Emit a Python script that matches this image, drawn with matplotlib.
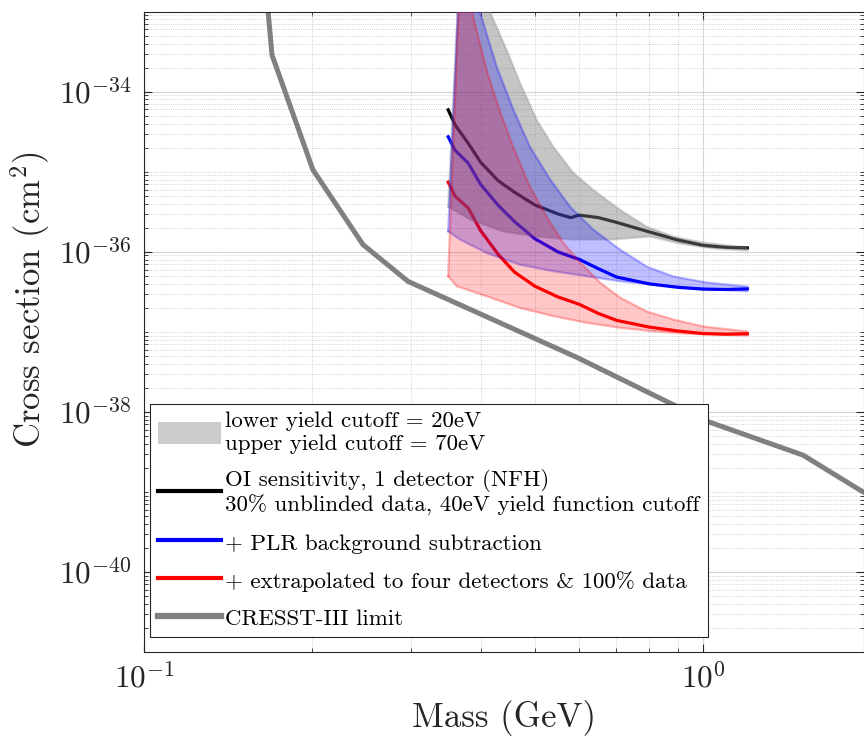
import numpy as np
import matplotlib
matplotlib.use('Agg')
import matplotlib.pyplot as plt
from matplotlib.ticker import LogLocator, FixedLocator, FuncFormatter, NullFormatter
from matplotlib.patches import Patch
from matplotlib.lines import Line2D

plt.rcParams['font.family'] = 'serif'
plt.rcParams['font.serif'] = ['cmr10']
plt.rcParams['mathtext.fontset'] = 'cm'
plt.rcParams['axes.formatter.use_mathtext'] = True

# 曲线数据 (质量 GeV, 截面取 log10)
mass = [0.35, 0.36, 0.38, 0.40, 0.43, 0.46, 0.50, 0.55, 0.58, 0.60,
        0.65, 0.70, 0.80, 0.90, 1.00, 1.10, 1.20]
black_log = [-34.226, -34.413, -34.643, -34.881, -35.112, -35.256, -35.414, -35.527, -35.573, -35.541,
             -35.573, -35.632, -35.750, -35.851, -35.920, -35.944, -35.951]
blue_log = [-34.563, -34.731, -34.891, -35.157, -35.419, -35.623, -35.836, -36.001, -36.059, -36.093,
            -36.212, -36.315, -36.400, -36.443, -36.466, -36.471, -36.463]
red_log = [-35.130, -35.305, -35.452, -35.735, -36.032, -36.254, -36.429, -36.564, -36.619, -36.655,
           -36.771, -36.856, -36.940, -36.989, -37.021, -37.029, -37.024]

# 误差带 (20eV / 70eV cutoff)
gray_lo_m = [0.35, 0.383, 0.44, 0.504, 0.578, 0.691, 0.804, 0.91, 1.043, 1.2]
gray_lo = [-35.436, -35.598, -35.748, -35.810, -35.847, -35.847, -35.810, -35.898, -35.960, -35.985]
gray_up_m = [0.35, 0.375, 0.416, 0.4455, 0.4706, 0.504, 0.54, 0.586, 0.636, 0.71, 0.793, 0.885, 1.001, 1.2]
gray_up = [-35.436, -31.0, -33.004, -33.478, -33.889, -34.351, -34.688, -35.012, -35.224, -35.473,
           -35.686, -35.810, -35.885, -35.947]

blue_lo_m = [0.35, 0.3675, 0.41, 0.47, 0.54, 0.62, 0.71, 0.815, 0.935, 1.2]
blue_lo = [-35.744, -35.847, -36.014, -36.160, -36.243, -36.305, -36.368, -36.409, -36.450, -36.493]
blue_up_m = [0.35, 0.375, 0.399, 0.4275, 0.458, 0.49, 0.533, 0.578, 0.636, 0.71, 0.793, 0.885, 1.015, 1.2]
blue_up = [-35.744, -31.0, -33.004, -33.69, -34.226, -34.688, -35.099, -35.436, -35.723, -35.972,
           -36.185, -36.309, -36.384, -36.434]

red_lo_m = [0.35, 0.3625, 0.41, 0.47, 0.54, 0.62, 0.71, 0.815, 0.935, 1.2]
red_lo = [-36.305, -36.430, -36.555, -36.700, -36.804, -36.887, -36.949, -36.992, -37.024, -37.045]
red_up_m = [0.35, 0.375, 0.386, 0.41, 0.4335, 0.458, 0.49, 0.525, 0.562, 0.603, 0.654, 0.71, 0.793,
            0.885, 1.0, 1.2]
red_up = [-36.305, -31.0, -33.004, -33.727, -34.251, -34.700, -35.187, -35.561, -35.885, -36.135,
          -36.384, -36.571, -36.746, -36.846, -36.933, -36.995]

# CRESST-III limit
cresst_m = [0.166, 0.1694, 0.2005, 0.2464, 0.2967, 0.595, 1.017, 1.509, 1.932, 2.45]
cresst_log = [-32.85, -33.54, -34.975, -35.91, -36.37, -37.32, -38.118, -38.54, -39.00, -39.29]

# 刻度
xticks = [0.1, 1.0]
yticks = [1e-40, 1e-38, 1e-36, 1e-34]

labels = ['lower yield cutoff = 20eV\nupper yield cutoff = 70eV',
          'OI sensitivity, 1 detector (NFH)\n30% unblinded data, 40eV yield function cutoff',
          '+ PLR background subtraction',
          '+ extrapolated to four detectors & 100% data',
          'CRESST-III limit']


def band(ax, m_lo, lo, m_up, up, color, alpha):
    xs = list(m_lo) + list(m_up)[::-1]
    ys = [10.0 ** v for v in list(lo) + list(up)[::-1]]
    ax.fill(xs, ys, facecolor=color, alpha=alpha, edgecolor='none', zorder=3)
    ax.plot(m_lo, [10.0 ** v for v in lo], color=color, alpha=0.28, lw=1.6, zorder=3)
    ax.plot(m_up, [10.0 ** v for v in up], color=color, alpha=0.28, lw=1.6, zorder=3)


def exp_fmt(v, p):
    return r'$10^{%d}$' % int(round(np.log10(v)))


fig = plt.figure(figsize=(8.64, 7.37), dpi=100)
ax = fig.add_axes([144 / 864, 85 / 737, 720 / 864, 640.3 / 737])
ax.set_xscale('log')
ax.set_yscale('log')

ax.plot(cresst_m, [10.0 ** v for v in cresst_log], color='#808080', lw=3.6, zorder=2)
ax.plot(mass, [10.0 ** v for v in black_log], color='k', lw=2.3, zorder=2)
ax.plot(mass, [10.0 ** v for v in blue_log], color='b', lw=2.3, zorder=2)
ax.plot(mass, [10.0 ** v for v in red_log], color='r', lw=2.3, zorder=2)

band(ax, gray_lo_m, gray_lo, gray_up_m, gray_up, '#808080', 0.45)
band(ax, blue_lo_m, blue_lo, blue_up_m, blue_up, 'b', 0.25)
band(ax, red_lo_m, red_lo, red_up_m, red_up, 'r', 0.22)

ax.set_xlim(0.1, 1.94)
ax.set_ylim(1e-41, 1e-33)

ax.xaxis.set_major_locator(FixedLocator(xticks))
ax.xaxis.set_minor_locator(LogLocator(base=10, subs=np.arange(2, 10)))
ax.yaxis.set_major_locator(FixedLocator(yticks))
ax.yaxis.set_minor_locator(LogLocator(base=10, subs=np.arange(1, 10), numticks=20))
ax.xaxis.set_major_formatter(FuncFormatter(exp_fmt))
ax.yaxis.set_major_formatter(FuncFormatter(exp_fmt))
ax.xaxis.set_minor_formatter(NullFormatter())
ax.yaxis.set_minor_formatter(NullFormatter())

ax.grid(True, which='major', color='#d6d6d6', lw=0.8, ls='-')
ax.grid(True, which='minor', color='#c4c4c4', lw=0.6, ls=':')
ax.set_axisbelow(True)
ax.tick_params(which='both', direction='in', top=True, right=True, colors='#262626',
               labelsize=22.5, labelcolor='#262626')
ax.tick_params(which='major', length=6)
ax.tick_params(which='minor', length=3)
ax.tick_params(axis='x', pad=8)
ax.tick_params(axis='y', pad=9)
for s in ax.spines.values():
    s.set_color('#262626')
    s.set_linewidth(0.8)

ax.set_xlabel('Mass (GeV)', fontsize=25, color='#262626', labelpad=4)
ax.set_ylabel(r'Cross section $(\mathrm{cm}^2)$', fontsize=25, color='#262626')
ax.yaxis.set_label_coords(-0.128, 0.55)

handles = [Patch(facecolor='#cccccc', edgecolor='none'),
           Line2D([], [], color='k', lw=3),
           Line2D([], [], color='b', lw=3),
           Line2D([], [], color='r', lw=3),
           Line2D([], [], color='#808080', lw=4.5)]
leg = ax.legend(handles, labels, loc='lower left', bbox_to_anchor=(0.008, 0.023), borderaxespad=0,
                fontsize=16.5, fancybox=False, framealpha=1, edgecolor='#262626',
                handlelength=2.75, handleheight=1.1, handletextpad=0.2, labelspacing=0.65,
                borderpad=0.35)
leg.get_frame().set_linewidth(0.8)
leg.set_zorder(5)

fig.savefig('out.png', dpi=100)
